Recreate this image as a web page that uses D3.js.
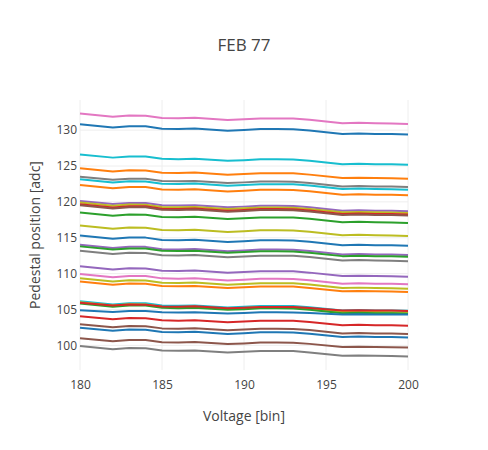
<!DOCTYPE html>
<html>
<head>
<meta charset="utf-8">
<script src="https://cdn.jsdelivr.net/npm/d3@7"></script>
<style>
  body { margin: 0; background: #fff; }
  text { font-family: "Open Sans", verdana, arial, sans-serif; fill: #444; }
</style>
</head>
<body>
<div id="chart"></div>
<script>
var voltage = [180, 182, 183, 184, 185, 186, 187, 189, 190, 191, 192, 193, 194, 196, 197, 198, 199, 200];

// pedestal position per channel, top to bottom at 180
var pedestal = [
    [132.32, 131.87, 132.04, 132.02, 131.70, 131.66, 131.72, 131.42, 131.52, 131.64, 131.64, 131.62, 131.44, 130.96, 131.02, 130.96, 130.94, 130.87],
    [130.83, 130.38, 130.55, 130.53, 130.21, 130.17, 130.23, 129.93, 130.03, 130.15, 130.15, 130.13, 129.95, 129.47, 129.53, 129.47, 129.45, 129.38],
    [126.62, 126.17, 126.34, 126.32, 126.00, 125.96, 126.02, 125.72, 125.82, 125.94, 125.94, 125.92, 125.74, 125.26, 125.32, 125.26, 125.24, 125.17],
    [124.68, 124.23, 124.40, 124.38, 124.06, 124.02, 124.08, 123.78, 123.88, 124.00, 124.00, 123.98, 123.80, 123.32, 123.38, 123.32, 123.30, 123.23],
    [123.52, 123.07, 123.24, 123.22, 122.90, 122.86, 122.92, 122.62, 122.72, 122.84, 122.84, 122.82, 122.64, 122.16, 122.22, 122.16, 122.14, 122.07],
    [123.15, 122.70, 122.87, 122.85, 122.53, 122.49, 122.55, 122.25, 122.35, 122.47, 122.47, 122.45, 122.27, 121.79, 121.85, 121.79, 121.77, 121.70],
    [122.36, 121.91, 122.08, 122.06, 121.74, 121.70, 121.76, 121.46, 121.56, 121.68, 121.68, 121.66, 121.48, 121.00, 121.06, 121.00, 120.98, 120.91],
    [120.14, 119.69, 119.86, 119.84, 119.52, 119.48, 119.54, 119.24, 119.34, 119.46, 119.46, 119.44, 119.26, 118.78, 118.84, 118.78, 118.76, 118.69],
    [119.90, 119.45, 119.62, 119.60, 119.28, 119.24, 119.30, 119.00, 119.10, 119.22, 119.22, 119.20, 119.02, 118.54, 118.60, 118.54, 118.52, 118.45],
    [119.68, 119.23, 119.40, 119.38, 119.06, 119.02, 119.08, 118.78, 118.88, 119.00, 119.00, 118.98, 118.80, 118.32, 118.38, 118.32, 118.30, 118.23],
    [119.54, 119.09, 119.26, 119.24, 118.92, 118.88, 118.94, 118.64, 118.74, 118.86, 118.86, 118.84, 118.66, 118.18, 118.24, 118.18, 118.16, 118.09],
    [118.52, 118.07, 118.24, 118.22, 117.90, 117.86, 117.92, 117.62, 117.72, 117.84, 117.84, 117.82, 117.64, 117.16, 117.22, 117.16, 117.14, 117.07],
    [116.71, 116.26, 116.43, 116.41, 116.09, 116.05, 116.11, 115.81, 115.91, 116.03, 116.03, 116.01, 115.83, 115.35, 115.41, 115.35, 115.33, 115.26],
    [115.32, 114.87, 115.04, 115.02, 114.70, 114.66, 114.72, 114.42, 114.52, 114.64, 114.64, 114.62, 114.44, 113.96, 114.02, 113.96, 113.94, 113.87],
    [114.03, 113.58, 113.75, 113.73, 113.41, 113.37, 113.43, 113.13, 113.23, 113.35, 113.35, 113.33, 113.15, 112.67, 112.73, 112.67, 112.65, 112.58],
    [113.80, 113.35, 113.52, 113.50, 113.18, 113.14, 113.20, 112.90, 113.00, 113.12, 113.12, 113.10, 112.92, 112.44, 112.50, 112.44, 112.42, 112.35],
    [113.19, 112.74, 112.91, 112.89, 112.57, 112.53, 112.59, 112.29, 112.39, 112.51, 112.51, 112.49, 112.31, 111.83, 111.89, 111.83, 111.81, 111.74],
    [111.02, 110.57, 110.74, 110.72, 110.40, 110.36, 110.42, 110.12, 110.22, 110.34, 110.34, 110.32, 110.14, 109.66, 109.72, 109.66, 109.64, 109.57],
    [109.96, 109.51, 109.68, 109.66, 109.34, 109.30, 109.36, 109.06, 109.16, 109.28, 109.28, 109.26, 109.08, 108.60, 108.66, 108.60, 108.58, 108.51],
    [109.35, 108.90, 109.07, 109.05, 108.73, 108.69, 108.75, 108.45, 108.55, 108.67, 108.67, 108.65, 108.47, 107.99, 108.05, 107.99, 107.97, 107.90],
    [108.89, 108.44, 108.61, 108.59, 108.27, 108.23, 108.29, 107.99, 108.09, 108.21, 108.21, 108.19, 108.01, 107.53, 107.59, 107.53, 107.51, 107.44],
    [106.15, 105.71, 105.88, 105.86, 105.55, 105.51, 105.57, 105.28, 105.38, 105.50, 105.50, 105.48, 105.31, 104.87, 104.92, 104.87, 104.86, 104.82],
    [106.00, 105.55, 105.72, 105.70, 105.38, 105.34, 105.40, 105.10, 105.20, 105.32, 105.32, 105.30, 105.12, 104.64, 104.70, 104.64, 104.62, 104.55],
    [105.85, 105.40, 105.57, 105.55, 105.23, 105.19, 105.25, 104.95, 105.05, 105.17, 105.17, 105.15, 104.97, 104.49, 104.55, 104.49, 104.47, 104.40],
    [105.95, 105.55, 105.70, 105.68, 105.42, 105.38, 105.44, 105.18, 105.26, 105.36, 105.36, 105.34, 105.20, 104.86, 104.90, 104.86, 104.85, 104.80],
    [104.90, 104.65, 104.80, 104.78, 104.62, 104.58, 104.62, 104.45, 104.52, 104.62, 104.62, 104.58, 104.50, 104.30, 104.34, 104.32, 104.32, 104.30],
    [104.07, 103.65, 103.81, 103.79, 103.49, 103.45, 103.51, 103.23, 103.33, 103.44, 103.44, 103.42, 103.25, 102.80, 102.86, 102.80, 102.79, 102.74],
    [102.96, 102.53, 102.70, 102.68, 102.37, 102.33, 102.39, 102.10, 102.20, 102.32, 102.32, 102.30, 102.13, 101.67, 101.73, 101.67, 101.66, 101.60],
    [102.46, 102.03, 102.20, 102.18, 101.87, 101.83, 101.89, 101.60, 101.70, 101.82, 101.82, 101.80, 101.63, 101.17, 101.23, 101.17, 101.16, 101.10],
    [101.01, 100.59, 100.76, 100.74, 100.44, 100.40, 100.46, 100.18, 100.27, 100.39, 100.39, 100.37, 100.21, 99.76, 99.82, 99.76, 99.75, 99.70],
    [99.90, 99.45, 99.62, 99.60, 99.28, 99.24, 99.30, 99.00, 99.10, 99.22, 99.22, 99.20, 99.02, 98.54, 98.60, 98.54, 98.52, 98.45]
];

var traceColor = [
    "#e377c2", "#1f77b4", "#17becf", "#ff7f0e", "#7f7f7f", "#17becf", "#ff7f0e", "#9467bd",
    "#bcbd22", "#d62728", "#8c564b", "#2ca02c", "#bcbd22", "#1f77b4", "#9467bd", "#2ca02c",
    "#7f7f7f", "#9467bd", "#e377c2", "#bcbd22", "#ff7f0e", "#17becf", "#bcbd22", "#2ca02c",
    "#d62728", "#1f77b4", "#d62728", "#8c564b", "#1f77b4", "#8c564b", "#7f7f7f"
];

var xTicks = [180, 185, 190, 195, 200];
var yTicks = [100, 105, 110, 115, 120, 125, 130];

var width = 488, height = 450;
var margin = { top: 100, right: 80, bottom: 80, left: 80 };
var plotW = width - margin.left - margin.right;
var plotH = height - margin.top - margin.bottom;

var svg = d3.select("#chart").append("svg")
    .attr("width", width)
    .attr("height", height);

var x = d3.scaleLinear()
    .domain(d3.extent(voltage))
    .range([margin.left, margin.left + plotW]);

// autorange with 5% padding on each end, like plotly does for lines
var lo = d3.min(pedestal, function(s) { return d3.min(s); });
var hi = d3.max(pedestal, function(s) { return d3.max(s); });
var span = (hi - lo) / 0.9;
var y = d3.scaleLinear()
    .domain([lo - 0.05 * span, hi + 0.05 * span])
    .range([margin.top + plotH, margin.top]);

// grid
svg.append("g").selectAll("line")
    .data(xTicks)
    .enter().append("line")
    .attr("x1", function(d) { return x(d); })
    .attr("x2", function(d) { return x(d); })
    .attr("y1", margin.top)
    .attr("y2", margin.top + plotH)
    .style("stroke", "#eee")
    .style("stroke-width", 1);
svg.append("g").selectAll("line")
    .data(yTicks)
    .enter().append("line")
    .attr("x1", margin.left)
    .attr("x2", margin.left + plotW)
    .attr("y1", function(d) { return y(d); })
    .attr("y2", function(d) { return y(d); })
    .style("stroke", "#eee")
    .style("stroke-width", 1);

// axes, no domain line or tick marks
var xAxis = svg.append("g")
    .attr("transform", "translate(0," + (margin.top + plotH) + ")")
    .call(d3.axisBottom(x).tickValues(xTicks).tickSize(0).tickPadding(10));
var yAxis = svg.append("g")
    .attr("transform", "translate(" + margin.left + ",0)")
    .call(d3.axisLeft(y).tickValues(yTicks).tickSize(0).tickPadding(3));
[xAxis, yAxis].forEach(function(a) {
    a.select(".domain").remove();
    a.selectAll("text")
        .style("font-size", "12px")
        .style("font-family", "\"Open Sans\", verdana, arial, sans-serif")
        .style("fill", "#444");
});

var line = d3.line()
    .x(function(d, i) { return x(voltage[i]); })
    .y(function(d) { return y(d); });

svg.append("g").selectAll("path")
    .data(pedestal)
    .enter().append("path")
    .attr("d", line)
    .style("fill", "none")
    .style("stroke", function(d, i) { return traceColor[i]; })
    .style("stroke-width", 2)
    .style("stroke-linejoin", "round");

svg.append("text")
    .attr("x", width / 2)
    .attr("y", 51)
    .style("text-anchor", "middle")
    .style("font-size", "17px")
    .text("FEB 77");

svg.append("text")
    .attr("x", margin.left + plotW / 2)
    .attr("y", 421)
    .style("text-anchor", "middle")
    .style("font-size", "14px")
    .text("Voltage [bin]");

svg.append("text")
    .attr("transform", "translate(40," + (margin.top + plotH / 2) + ") rotate(-90)")
    .style("text-anchor", "middle")
    .style("font-size", "14px")
    .text("Pedestal position [adc]");
</script>
</body>
</html>
